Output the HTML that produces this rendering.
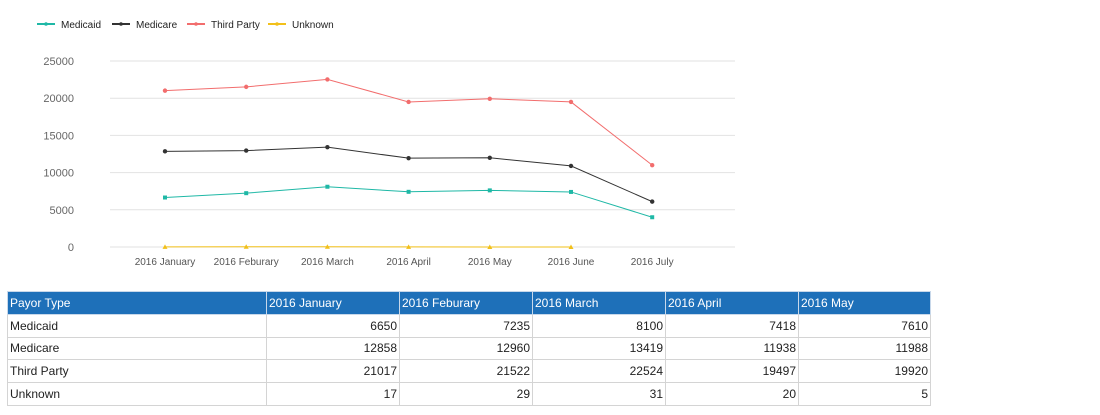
<!DOCTYPE html>
<html><head><meta charset="utf-8"><style>
body{margin:0;width:1100px;height:415px;background:#fff;font-family:"Liberation Sans",sans-serif;overflow:hidden;position:relative}
svg{position:absolute;left:0;top:0}
table{position:absolute;left:7px;top:291px;border-collapse:collapse;font-size:12px;color:#222}
td,th{border:1px solid #d4d4d4;height:22.8px;padding:0 2px;box-sizing:border-box}
th{background:#1e70b9;color:#fff;font-weight:normal;text-align:left;border-color:#c8d8ea}
td.n{text-align:right}
</style></head><body>
<svg width="1100" height="290">
<g id="grid"></g><g id="series"></g><g id="legend"></g>
</svg>
<table>
<tr><th style="width:259px">Payor Type</th><th style="width:133px">2016 January</th><th style="width:133px">2016 Feburary</th><th style="width:133px">2016 March</th><th style="width:133px">2016 April</th><th style="width:132px">2016 May</th></tr>
<tr><td>Medicaid</td><td class="n">6650</td><td class="n">7235</td><td class="n">8100</td><td class="n">7418</td><td class="n">7610</td></tr>
<tr><td>Medicare</td><td class="n">12858</td><td class="n">12960</td><td class="n">13419</td><td class="n">11938</td><td class="n">11988</td></tr>
<tr><td>Third Party</td><td class="n">21017</td><td class="n">21522</td><td class="n">22524</td><td class="n">19497</td><td class="n">19920</td></tr>
<tr><td>Unknown</td><td class="n">17</td><td class="n">29</td><td class="n">31</td><td class="n">20</td><td class="n">5</td></tr>
</table>
<script>
const categories=["2016 January","2016 Feburary","2016 March","2016 April","2016 May","2016 June","2016 July"];
const medicaid=[6650,7235,8100,7418,7610,7400,4000];
const medicare=[12858,12960,13419,11938,11988,10900,6100];
const thirdParty=[21017,21522,22524,19497,19920,19500,11000];
const unknown=[17,29,31,20,5,0,null];
const yTicks=[0,5000,10000,15000,20000,25000];
const seriesNames=["Medicaid","Medicare","Third Party","Unknown"];
const NS="http://www.w3.org/2000/svg";
const x=i=>165+i*81.2;
const y=v=>247-v*(186/25000);
function mk(t,a,p){const e=document.createElementNS(NS,t);for(const k in a)e.setAttribute(k,a[k]);p.appendChild(e);return e;}
const grid=document.getElementById('grid');
yTicks.forEach(t=>{
 const l=mk('line',{x1:110,x2:735,y1:y(t),y2:y(t),stroke:'#e2e2e2'},grid);
 
 
 const tx=mk('text',{x:74,y:y(t)+4,'text-anchor':'end','font-size':11,fill:'#666'},grid);tx.textContent=t;
 
 
});
categories.forEach((c,i)=>{
 const tx=mk('text',{x:x(i),y:265,'text-anchor':'middle','font-size':10,fill:'#555'},grid);tx.textContent=c;
 
 
});
const colors=["#1fb8a6","#333333","#f26d6d","#f2c01a"];
const data=[medicaid,medicare,thirdParty,unknown];
const sg=document.getElementById('series');
data.forEach((d,s)=>{
 let pts=[];d.forEach((v,i)=>{if(v!==null)pts.push(x(i)+','+y(v));});
 const pl=mk('polyline',{points:pts.join(' '),fill:'none',stroke:colors[s],'stroke-width':1},sg);
 
 
 d.forEach((v,i)=>{if(v===null)return;
  let m;
  if(s===0)m=mk('rect',{x:x(i)-2,y:y(v)-2,width:4,height:4,fill:colors[s]},sg);
  else if(s===3)m=mk('path',{d:`M${x(i)-2.5},${y(v)+2}L${x(i)+2.5},${y(v)+2}L${x(i)},${y(v)-2.5}Z`,fill:colors[s]},sg);
  else m=mk('circle',{cx:x(i),cy:y(v),r:2.2,fill:colors[s]},sg);
  
  
 });
});
const lg=document.getElementById('legend');
const lx=[37,112,187,268];
seriesNames.forEach((n,s)=>{
 const g=mk('g',{},lg);
 
 
 mk('line',{x1:lx[s],x2:lx[s]+18,y1:24,y2:24,stroke:colors[s],'stroke-width':2},g);
 mk('circle',{cx:lx[s]+9,cy:24,r:1.8,fill:colors[s]},g);
 const t=mk('text',{x:lx[s]+24,y:28,'font-size':10,fill:'#222'},g);t.textContent=n;
});
</script>
</body></html>
